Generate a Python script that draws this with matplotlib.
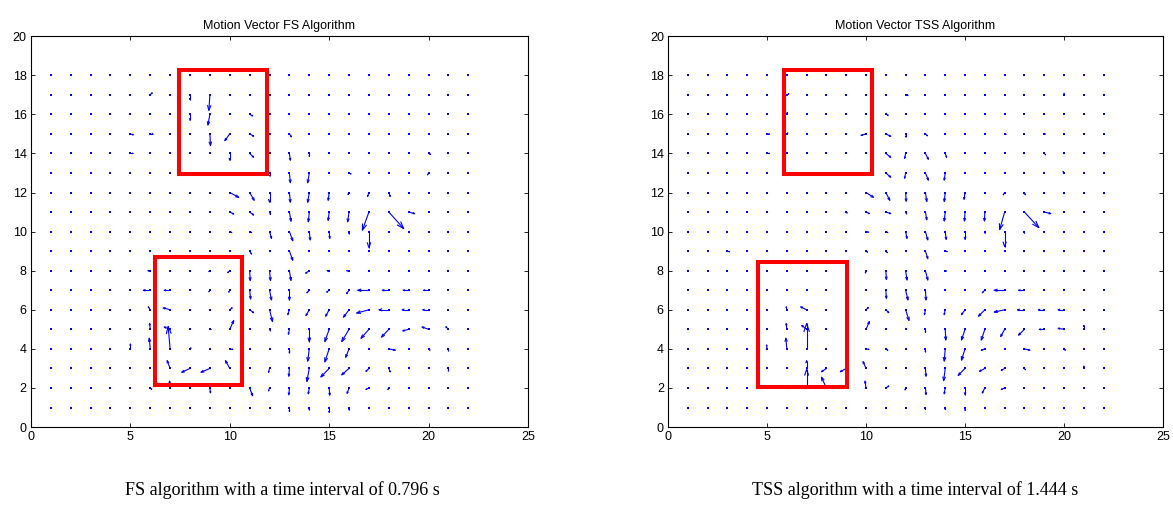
import numpy as np
import matplotlib.pyplot as plt
from matplotlib.collections import LineCollection

# grid of block positions
grid_x = np.arange(1, 23)
grid_y = np.arange(1, 19)

# non-zero motion vectors: (x, y, u, v)
fs_vectors = [
    (6, 17, 0.1, 0.1), (8, 17, 0, -0.25), (9, 17, -0.05, -0.8),
    (8, 16, 0, -0.3), (9, 16, -0.1, -0.55), (11, 16, 0.15, -0.08),
    (5, 15, 0.15, -0.05), (6, 15, 0.12, 0), (9, 15, 0.03, -0.6),
    (10, 15, -0.25, -0.35), (11, 15, 0.2, -0.12),
    (5, 14, 0.12, 0), (10, 14, 0, -0.35), (11, 14, 0.2, -0.2),
    (11, 13, 0.1, -0.05), (12, 13, 0, -0.15),
    (10, 12, 0.45, -0.25), (11, 12, 0.23, -0.4), (12, 12, 0, -0.5),
    (10, 11, 0.2, -0.1), (11, 11, 0.2, -0.15), (12, 11, 0.05, -0.12),
    (10, 10, 0.1, -0.05), (11, 10, 0.1, -0.05), (12, 10, 0.1, -0.35),
    (11, 9, 0.1, -0.15),
    (6, 8, -0.12, 0), (9, 8, -0.05, -0.05), (10, 8, -0.1, -0.1),
    (11, 8, 0.03, -0.5), (12, 8, 0.05, -0.5),
    (6, 7, -0.35, 0), (7, 7, -0.3, 0), (9, 7, -0.05, -0.08),
    (10, 7, -0.05, -0.1), (11, 7, 0.05, -0.45), (12, 7, 0.1, -0.5),
    (6, 6, -0.1, 0.15), (7, 6, -0.35, 0.1), (10, 6, 0.12, 0.1),
    (11, 6, 0.2, -0.15), (12, 6, 0.15, -0.6),
    (6, 5, -0.03, 0.3), (7, 5, -0.3, 0.12), (9, 5, 0.05, 0),
    (10, 5, 0.2, 0.45), (12, 5, 0.05, -0.08),
    (5, 4, 0, 0.25), (6, 4, -0.05, 0.55), (7, 4, -0.1, 1.15),
    (8, 4, 0.05, 0.05), (10, 4, 0.15, -0.03),
    (7, 3, -0.15, 0.4), (8, 3, -0.42, -0.2), (9, 3, -0.45, -0.2),
    (10, 3, -0.22, 0.4), (12, 3, -0.05, -0.2),
    (6, 2, 0.07, -0.07), (7, 2, -0.03, 0.35), (9, 2, 0.03, -0.25),
    (11, 2, 0.15, -0.4), (12, 2, -0.05, -0.15),
    (13, 15, 0.1, -0.15), (13, 14, 0.05, -0.35), (14, 14, 0, -0.15),
    (20, 14, 0.1, -0.05),
    (13, 13, 0.05, -0.5), (14, 13, -0.08, -0.5), (16, 13, 0.1, -0.05),
    (20, 13, -0.05, -0.1),
    (13, 12, 0.05, -0.5), (14, 12, -0.08, -0.5), (15, 12, -0.05, -0.4),
    (16, 12, -0.05, -0.1), (17, 12, -0.07, -0.2), (18, 12, 0.07, -0.2),
    (13, 11, 0.08, -0.47), (14, 11, -0.05, -0.5), (15, 11, -0.05, -0.43),
    (16, 11, -0.07, -0.5), (17, 11, -0.33, -0.93), (18, 11, 0.75, -0.85),
    (19, 11, 0.3, -0.08),
    (13, 10, 0.17, -0.47), (14, 10, 0.05, -0.43), (15, 10, 0.03, -0.35),
    (16, 10, 0, -0.1), (17, 10, 0, -0.82),
    (13, 9, 0.17, -0.47),
    (13, 8, 0.08, -0.5), (14, 8, -0.18, -0.13), (15, 8, -0.1, 0),
    (16, 8, -0.12, 0),
    (13, 7, 0, -0.5), (14, 7, -0.12, -0.13), (15, 7, -0.12, -0.1),
    (16, 7, -0.12, -0.17), (17, 7, -0.57, 0), (18, 7, -0.33, 0),
    (19, 7, -0.28, 0), (20, 7, -0.25, 0),
    (13, 6, -0.08, -0.25), (14, 6, -0.17, -0.3), (15, 6, -0.18, -0.33),
    (16, 6, -0.28, -0.38), (17, 6, -0.62, -0.17), (18, 6, -0.5, 0),
    (19, 6, -0.33, 0), (20, 6, -0.3, 0),
    (13, 5, -0.05, -0.25), (14, 5, 0, -0.63), (15, 5, -0.22, -0.63),
    (16, 5, -0.37, -0.63), (17, 5, -0.4, -0.46), (18, 5, -0.37, -0.4),
    (19, 5, -0.3, -0.08), (20, 5, -0.33, 0.12), (21, 5, -0.13, 0.13),
    (13, 4, 0, -0.2), (14, 4, -0.08, -0.63), (15, 4, -0.22, -0.67),
    (16, 4, -0.17, -0.43), (18, 4, 0.33, -0.07), (20, 4, 0.07, -0.07),
    (21, 4, 0, -0.1),
    (13, 3, -0.03, -0.4), (14, 3, -0.12, -0.67), (15, 3, -0.42, -0.44),
    (16, 3, -0.37, -0.33), (17, 3, -0.15, -0.15), (18, 3, 0.07, -0.18),
    (21, 3, 0, -0.12),
    (13, 2, -0.03, -0.35), (14, 2, -0.05, -0.3), (15, 2, 0.03, -0.37),
    (16, 2, -0.1, -0.28), (17, 2, -0.15, -0.08), (18, 2, -0.05, -0.08),
    (13, 1, 0, -0.2), (14, 1, 0, -0.12), (15, 1, 0, -0.25), (16, 1, 0, -0.12),
]

tss_vectors = [
    (6, 17, 0.1, 0.05), (12, 17, 0.1, 0), (6, 16, 0.03, 0.1),
    (11, 16, 0.12, -0.05),
    (5, 15, 0.12, 0), (6, 15, 0.05, 0.05), (10, 15, -0.25, -0.08),
    (11, 15, 0.25, -0.13), (12, 15, 0, -0.15),
    (5, 14, 0.12, 0), (11, 14, 0.25, -0.2), (12, 14, -0.05, -0.25),
    (11, 13, 0.25, -0.22), (12, 13, -0.05, -0.27),
    (10, 12, 0.38, -0.25), (11, 12, 0.2, -0.4), (12, 12, 0.03, -0.45),
    (9, 11, 0.05, -0.05), (10, 11, 0.17, -0.08), (11, 11, 0.25, -0.08),
    (12, 11, 0.05, -0.1),
    (10, 10, 0.12, -0.03), (11, 10, 0.1, -0.05), (12, 10, 0.07, -0.35),
    (3, 9, 0.1, -0.03), (10, 9, 0.08, -0.05), (11, 9, 0.08, -0.08),
    (10, 8, -0.03, -0.12), (11, 8, 0.03, -0.45), (12, 8, 0.07, -0.48),
    (11, 7, 0.03, -0.42), (12, 7, 0.12, -0.5),
    (6, 6, -0.03, 0.15), (7, 6, -0.3, 0.15), (10, 6, 0.12, 0.12),
    (11, 6, 0.15, -0.15), (12, 6, 0.17, -0.55),
    (6, 5, -0.03, 0.3), (7, 5, -0.25, 0.2), (10, 5, 0.17, 0.4),
    (5, 4, -0.02, 0.2), (6, 4, -0.05, 0.55), (7, 4, 0, 1.3),
    (10, 4, 0.15, -0.03), (11, 4, 0.1, -0.08),
    (7, 3, 0, 0.4), (8, 3, -0.25, -0.17), (9, 3, -0.3, -0.17),
    (10, 3, -0.15, 0.35),
    (6, 2, 0.1, 0), (7, 2, 0, 0.95), (8, 2, -0.25, 0.55),
    (10, 2, -0.05, 0.35), (11, 2, 0.15, 0.1), (12, 2, -0.03, -0.1),
    (13, 15, 0.1, -0.1), (17, 15, 0.05, 0), (19, 15, 0.05, 0),
    (20, 17, 0, 0.08),
    (13, 14, 0.15, -0.3), (14, 14, 0.07, -0.2), (19, 14, 0.07, -0.07),
    (13, 13, 0.15, -0.37), (14, 13, -0.05, -0.37), (20, 13, -0.05, 0.07),
    (13, 12, 0.07, -0.46), (14, 12, -0.05, -0.46), (15, 12, -0.05, -0.35),
    (16, 12, 0, -0.05), (17, 12, -0.07, -0.12), (18, 12, 0.05, -0.12),
    (13, 11, 0.07, -0.4), (14, 11, -0.05, -0.46), (15, 11, -0.03, -0.46),
    (16, 11, -0.02, -0.46), (17, 11, -0.25, -0.9), (18, 11, 0.73, -0.8),
    (19, 11, 0.33, -0.08),
    (13, 10, 0.12, -0.43), (14, 10, 0.05, -0.4), (15, 10, 0, -0.4),
    (16, 10, 0, -0.08), (17, 10, 0, -0.77), (18, 10, 0, -0.08),
    (13, 9, 0.12, -0.38), (14, 9, 0.1, -0.02),
    (13, 8, 0.12, -0.48), (14, 8, 0.05, 0),
    (13, 7, 0.03, -0.5), (16, 7, -0.13, -0.13), (17, 7, -0.53, 0),
    (18, 7, -0.3, 0),
    (13, 6, -0.05, -0.25), (14, 6, -0.05, -0.25), (15, 6, -0.18, -0.25),
    (16, 6, -0.32, -0.33), (17, 6, -0.53, -0.12), (18, 6, -0.35, 0),
    (19, 6, -0.3, 0), (20, 6, -0.3, 0),
    (13, 5, 0, -0.15), (14, 5, 0.03, -0.55), (15, 5, -0.18, -0.55),
    (16, 5, -0.18, -0.55), (17, 5, -0.2, -0.37), (18, 5, -0.3, -0.3),
    (19, 5, -0.25, 0), (20, 5, -0.3, 0.05), (21, 5, 0, 0.2),
    (13, 4, 0, -0.15), (14, 4, -0.05, -0.63), (15, 4, -0.18, -0.58),
    (16, 4, -0.18, -0.07), (18, 4, 0.28, -0.07), (20, 4, 0.07, -0.07),
    (13, 3, 0.03, -0.4), (14, 3, -0.08, -0.63), (15, 3, -0.35, -0.36),
    (16, 3, -0.27, -0.15), (17, 3, -0.17, -0.1), (18, 3, 0.05, -0.07),
    (21, 3, 0, 0.12),
    (13, 2, 0.03, -0.34), (14, 2, -0.05, -0.3), (15, 2, 0, -0.34),
    (16, 2, -0.13, -0.26), (17, 2, -0.17, -0.08),
    (13, 1, 0, -0.1), (14, 1, 0, -0.1), (15, 1, 0, -0.15),
]

# highlighted regions: (x0, y0, x1, y1)
fs_boxes = [(7.45, 12.93, 11.85, 18.26), (6.25, 2.13, 10.62, 8.72)]
tss_boxes = [(5.87, 12.95, 10.32, 18.26), (4.56, 2.06, 9.02, 8.44)]

titles = ["Motion Vector FS Algorithm", "Motion Vector TSS Algorithm"]
captions = ["FS algorithm with a time interval of 0.796 s",
            "TSS algorithm with a time interval of 1.444 s"]
x_ticks = [0, 5, 10, 15, 20, 25]
y_ticks = [0, 2, 4, 6, 8, 10, 12, 14, 16, 18, 20]


def arrow_segments(vectors, alpha=0.33, beta=0.33):
    # shaft + open V head, head size proportional to length (matlab style)
    segs = []
    for x, y, u, v in vectors:
        tx, ty = x + u, y + v
        segs.append([(x, y), (tx, ty)])
        segs.append([(tx - alpha * (u + beta * v), ty - alpha * (v - beta * u)),
                     (tx, ty),
                     (tx - alpha * (u - beta * v), ty - alpha * (v + beta * u))])
    return segs


def draw_panel(ax, vectors, boxes, title):
    gx, gy = np.meshgrid(grid_x, grid_y)
    ax.scatter(gx.ravel(), gy.ravel(), s=3.2, color="blue", marker="s",
               linewidths=0, zorder=2)

    lc = LineCollection(arrow_segments(vectors), colors="blue", linewidths=0.8,
                        zorder=3)
    ax.add_collection(lc)

    for x0, y0, x1, y1 in boxes:
        ax.plot([x0, x1, x1, x0, x0], [y0, y0, y1, y1, y0],
                color="red", lw=2.9, solid_joinstyle="miter", zorder=4)

    ax.set_xlim(0, 25)
    ax.set_ylim(0, 20)
    ax.set_xticks(x_ticks)
    ax.set_yticks(y_ticks)
    ax.tick_params(direction="in", length=3, width=0.6, top=True, right=True,
                   labelsize=9, pad=3)
    for s in ax.spines.values():
        s.set_linewidth(0.8)
    ax.set_title(title, fontsize=9, pad=5)


plt.rcParams["font.family"] = ["Liberation Sans", "DejaVu Sans"]
fig = plt.figure(figsize=(11.73, 5.09), dpi=100)

ax1 = fig.add_axes([0.0264, 0.161, 0.4237, 0.768])
ax2 = fig.add_axes([0.5695, 0.161, 0.4220, 0.768])

draw_panel(ax1, fs_vectors, fs_boxes, titles[0])
draw_panel(ax2, tss_vectors, tss_boxes, titles[1])

fig.text(0.241, 0.037, captions[0], ha="center", va="center",
         fontsize=13, family="Liberation Serif")
fig.text(0.780, 0.037, captions[1], ha="center", va="center",
         fontsize=13, family="Liberation Serif")

fig.savefig("out.png", dpi=100)
